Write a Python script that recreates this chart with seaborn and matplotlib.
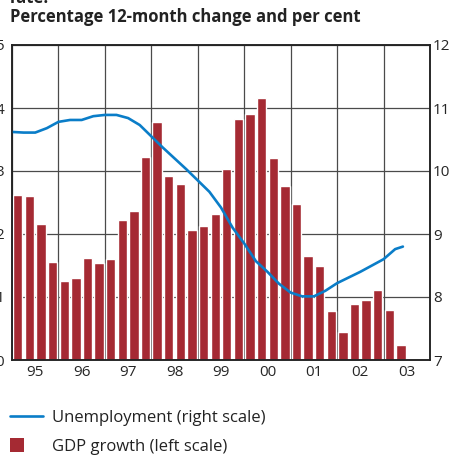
import numpy as np
import pandas as pd
import matplotlib
matplotlib.use("Agg")
import matplotlib.pyplot as plt
import seaborn as sns
from matplotlib.lines import Line2D
from matplotlib.patches import Patch, Rectangle
from matplotlib.legend_handler import HandlerBase

# --- data ---
# GDP growth, quarterly 1995Q1 - 2003Q2 (left scale)
gdp_growth = [2.62, 2.60, 2.16, 1.56, 1.25, 1.30, 1.62, 1.54,
              1.60, 2.22, 2.37, 3.22, 3.78, 2.92, 2.79, 2.06,
              2.13, 2.32, 3.03, 3.82, 3.90, 4.16, 3.21, 2.76,
              2.48, 1.65, 1.49, 0.78, 0.44, 0.89, 0.95, 1.11,
              0.79, 0.24]

# Unemployment (right scale), sampled each quarter start, last point May 2003
unemployment = [10.62, 10.61, 10.61, 10.68, 10.78, 10.81, 10.81, 10.87,
                10.89, 10.89, 10.84, 10.73, 10.55, 10.37, 10.20, 10.03,
                9.85, 9.67, 9.42, 9.10, 8.85, 8.57, 8.40, 8.21,
                8.07, 8.01, 8.01, 8.10, 8.22, 8.31, 8.40, 8.50,
                8.60, 8.76, 8.80]

year_labels = ["95", "96", "97", "98", "99", "00", "01", "02", "03"]

START = 1995
quarter_mid = [START + 0.125 + 0.25 * i for i in range(len(gdp_growth))]
unemp_x = [START + 0.25 * i for i in range(len(unemployment) - 1)] + [2003 + 5 / 12]

BAR_RED = "#a52a33"
LINE_BLUE = "#0a7dc8"
GRID = "#4a4a4a"

sns.set_theme(style="white")
plt.rcParams["font.family"] = ["Open Sans", "DejaVu Sans"]
plt.rcParams["text.color"] = "#222222"

W, H = 456, 458
fig = plt.figure(figsize=(W / 100, H / 100), dpi=100)
ax = fig.add_axes([12 / W, 1 - 360 / H, (430 - 12) / W, (360 - 45) / H])

df_gdp = pd.DataFrame({"quarter": quarter_mid, "gdp": gdp_growth})
sns.barplot(data=df_gdp, x="quarter", y="gdp", native_scale=True, width=0.8,
            color=BAR_RED, saturation=1, ax=ax, zorder=2)

ax2 = ax.twinx()
df_un = pd.DataFrame({"date": unemp_x, "unemp": unemployment})
sns.lineplot(data=df_un, x="date", y="unemp", color=LINE_BLUE, lw=1.9, ax=ax2)

# axes ranges / ticks
ax.set_xlim(START, START + len(year_labels))
ax.set_ylim(0, 5)
ax2.set_ylim(7, 12)
ax.set_yticks(range(0, 6))
ax2.set_yticks(range(7, 13))
ax.set_xticks([START + 0.5 + i for i in range(len(year_labels))])
ax.set_xticklabels(year_labels)
ax.set_xticks([START + i for i in range(len(year_labels) + 1)], minor=True)
ax.set_xlabel("")
ax.set_ylabel("")
ax2.set_xlabel("")
ax2.set_ylabel("")

ax.tick_params(axis="both", which="both", length=0, labelsize=11)
ax.tick_params(axis="y", pad=5.8)
ax.tick_params(axis="x", pad=3.5)
ax2.tick_params(axis="y", length=0, labelsize=11, pad=2.2)

ax.set_axisbelow(True)
ax.grid(False)
ax.grid(True, axis="y", which="major", color=GRID, lw=0.9)
ax.grid(True, axis="x", which="minor", color=GRID, lw=0.9)
ax2.grid(False)

for a in (ax, ax2):
    for s in a.spines.values():
        s.set_color("#222222")
        s.set_linewidth(1.1)

# titles (first line is cut off at the top edge, as in the source)
fig.text(10 / W, 1 - 3 / H, "rate.", fontsize=12, fontweight="bold",
         va="baseline", ha="left")
fig.text(10 / W, 1 - 17 / H, "Percentage 12-month change and per cent",
         fontsize=12, fontweight="bold", va="center", ha="left")


class SquareHandler(HandlerBase):
    def create_artists(self, legend, orig_handle, xdescent, ydescent,
                       width, height, fontsize, trans):
        s = height * 1.2
        r = Rectangle((-xdescent, -ydescent + (height - s) / 2), s, s,
                      facecolor=orig_handle.get_facecolor(),
                      edgecolor="none", transform=trans)
        return [r]


handles = [Line2D([], [], color=LINE_BLUE, lw=1.9),
           Patch(facecolor=BAR_RED)]
labels = ["Unemployment (right scale)", "GDP growth (left scale)"]
fig.legend(handles, labels, loc="upper left",
           bbox_to_anchor=(10 / W, 1 - 410 / H), frameon=False,
           fontsize=12, handlelength=2.0, handletextpad=0.5,
           labelspacing=0.78, borderpad=0, borderaxespad=0,
           handler_map={Patch: SquareHandler()})

fig.savefig("out.png", dpi=100)
